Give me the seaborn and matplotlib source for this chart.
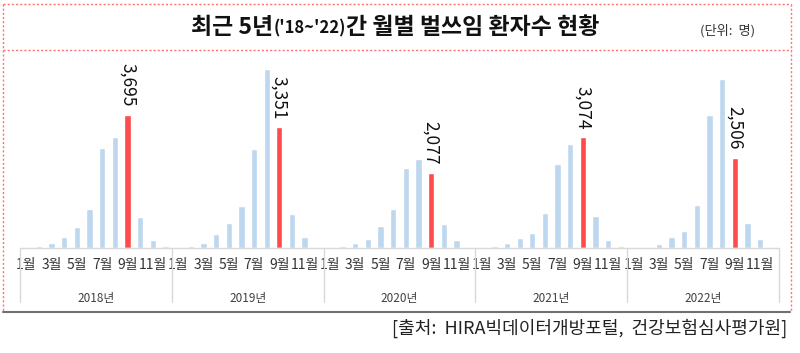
import numpy as np
import pandas as pd
import matplotlib
matplotlib.use('Agg')
import matplotlib.pyplot as plt
import matplotlib.transforms as mtransforms
from matplotlib.lines import Line2D
import seaborn as sns

# ──────────────────────────────────────────────────────────────────────
# Data (monthly patients)
# ──────────────────────────────────────────────────────────────────────
years = ['2018년', '2019년', '2020년', '2021년', '2022년']
months = ['1월', '2월', '3월', '4월', '5월', '6월', '7월', '8월', '9월', '10월', '11월', '12월']

c2018 = [30, 55, 130, 296, 591, 1081, 2772, 3095, 3695, 869, 231, 55]
c2019 = [28, 55, 130, 379, 693, 1155, 2754, 4962, 3351, 933, 296, 37]
c2020 = [37, 55, 130, 250, 619, 1072, 2227, 2486, 2077, 665, 222, 37]
c2021 = [10, 55, 130, 268, 407, 979, 2338, 2892, 3074, 887, 222, 55]
c2022 = [10, 28, 102, 296, 471, 1201, 3695, 4685, 2506, 693, 250, 28]

highlight_month = '9월'

palette = {'normal': '#BDD7EE', 'highlight': '#FF4B4B'}

sns.set_style('white')
plt.rcParams['font.family'] = ['Noto Sans CJK KR', 'DejaVu Sans']

# build long table
rows = []
for y, vals in zip(years, [c2018, c2019, c2020, c2021, c2022]):
    for m, v in zip(months, vals):
        rows.append({'year': y, 'month': m, 'count': v,
                     'kind': 'highlight' if m == highlight_month else 'normal'})
df = pd.DataFrame(rows)
df['slot'] = np.arange(len(df))

W, H = 800, 353
fig = plt.figure(figsize=(W / 100, H / 100), dpi=100)

# plot area: baseline at y=248px, x from 20 to 779px
ax = fig.add_axes([20 / W, (H - 248) / H, 759 / W, 180 / H])

sns.barplot(data=df, x='slot', y='count', hue='kind', palette=palette,
            dodge=False, width=0.5, legend=False, ax=ax, saturation=1)

ax.set_xlim(-0.5, len(df) - 0.5)
ax.set_ylim(0, 5000)
ax.set_yticks([])
ax.set_xlabel('')
ax.set_ylabel('')
for s in ax.spines.values():
    s.set_visible(False)
ax.axhline(0, color='#D9D9D9', lw=1, clip_on=False)

# month ticks (odd months only)
tick_pos = [i for i in range(len(df)) if i % 2 == 0]
tick_lab = [df['month'][i] for i in tick_pos]
ax.set_xticks(tick_pos)
ax.set_xticklabels(tick_lab, fontsize=10, color='#333333')
ax.tick_params(axis='x', length=0, pad=7)

# year groups and separators
trans = mtransforms.blended_transform_factory(ax.transData, ax.transAxes)
for g, y in enumerate(years):
    ax.text(12 * g + 5.5, -0.28, y, transform=trans, ha='center', va='center',
            fontsize=8.5, color='#404040')
for g in range(len(years) + 1):
    ax.plot([12 * g - 0.5] * 2, [0, -0.3], transform=trans, color='#D9D9D9',
            lw=1, clip_on=False)

# value labels on highlighted bars
for _, r in df[df['kind'] == 'highlight'].iterrows():
    ax.annotate(f"{r['count']:,}", (r['slot'], r['count']), xytext=(0, 6),
                textcoords='offset points', rotation=-90, ha='center', va='bottom',
                fontsize=12.5, color='#111111')

# frame: dotted red border and title separator, solid gray bottom line
def fx(px):
    return px / W

def fy(py):
    return 1 - py / H

red = '#FF7070'
for xs, ys in [([3, 791], [4, 4]), ([3, 791], [50, 50]),
               ([3, 3], [4, 312]), ([791, 791], [4, 312])]:
    fig.add_artist(Line2D([fx(v) for v in xs], [fy(v) for v in ys],
                          color=red, lw=1, ls=(0, (1.5, 1.5))))
fig.add_artist(Line2D([fx(3), fx(790)], [fy(312), fy(312)], color='#707070', lw=1.5))

# title built from pieces (smaller year span in the middle)
renderer = fig.canvas.get_renderer()
parts = [("최근 5년", 16.5), ("('18~'22)", 12), ("간 월별 벌쓰임 환자수 현황", 16.5)]
texts = []
total = 0
for s, fs in parts:
    t = fig.text(0, fy(28), s, fontsize=fs, fontweight='bold', va='center',
                 color='#111111')
    w = t.get_window_extent(renderer).width
    texts.append((t, w))
    total += w
x0 = 395 - total / 2
for t, w in texts:
    t.set_x(fx(x0))
    x0 += w

fig.text(fx(728), fy(31), '(단위:  명)', ha='center', va='center', fontsize=9.5,
         color='#333333')

fig.text(fx(787), fy(328), '[출처:  HIRA빅데이터개방포털,  건강보험심사평가원]',
         ha='right', va='center', fontsize=13, color='#222222')

fig.savefig('out.png', dpi=100)
plt.close(fig)
